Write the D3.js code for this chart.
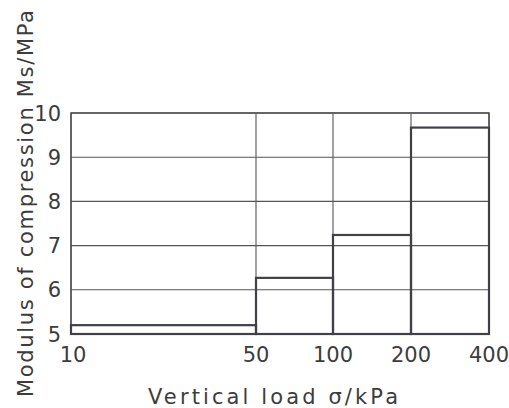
<!DOCTYPE html>
<html>
<head>
<meta charset="utf-8">
<script src="https://cdn.jsdelivr.net/npm/d3@7"></script>
<style>
  html, body { margin: 0; padding: 0; background: #fff; }
  svg { display: block; }
  text { font-family: "DejaVu Sans", sans-serif; fill: #3c3c3c; }
</style>
</head>
<body>
<svg id="chart" width="509" height="408"></svg>
<script>
// Load steps (kPa) bounding each interval, and the modulus measured in each interval
const loadTicks = [10, 50, 100, 200, 400];
const modulus = [5.2, 6.27, 7.24, 9.67];
const modulusTicks = [5, 6, 7, 8, 9, 10];
const xTitle = "Vertical load σ/kPa";
const yTitle = "Modulus of compression Ms/MPa";

const svg = d3.select("#chart");
const plotL = 71, plotR = 489, plotT = 113, plotB = 334;

// Piecewise axis: the first interval is drawn wider, the later doublings evenly spaced
const x = d3.scaleLinear()
  .domain(loadTicks)
  .range([plotL, 256, 333, 411, plotR]);
const y = d3.scaleLinear().domain([5, 10]).range([plotB, plotT]);

const lineCol = "#555";

// Horizontal grid
svg.append("g").selectAll("line")
  .data(modulusTicks)
  .join("line")
  .attr("x1", plotL).attr("x2", plotR)
  .attr("y1", d => y(d)).attr("y2", d => y(d))
  .attr("stroke", lineCol).attr("stroke-width", 1.1);

// Vertical grid at the load steps
svg.append("g").selectAll("line")
  .data(loadTicks)
  .join("line")
  .attr("x1", d => x(d)).attr("x2", d => x(d))
  .attr("y1", plotT).attr("y2", plotB)
  .attr("stroke", lineCol).attr("stroke-width", 1.1);

// Plot frame
svg.append("rect")
  .attr("x", plotL).attr("y", plotT)
  .attr("width", plotR - plotL).attr("height", plotB - plotT)
  .attr("fill", "none").attr("stroke", lineCol).attr("stroke-width", 1.6);

// Modulus bars for each load interval
svg.append("g").selectAll("rect")
  .data(modulus)
  .join("rect")
  .attr("x", (d, i) => x(loadTicks[i]))
  .attr("y", d => y(d))
  .attr("width", (d, i) => x(loadTicks[i + 1]) - x(loadTicks[i]))
  .attr("height", d => y(5) - y(d))
  .attr("fill", "none")
  .attr("stroke", "#404048")
  .attr("stroke-width", 2.2);

// Y tick labels
svg.append("g").selectAll("text")
  .data(modulusTicks)
  .join("text")
  .attr("x", 61)
  .attr("y", d => y(d))
  .attr("dy", "0.36em")
  .attr("text-anchor", "end")
  .attr("font-size", 21)
  .text(d => d);

// X tick labels
svg.append("g").selectAll("text")
  .data(loadTicks)
  .join("text")
  .attr("x", (d, i) => x(d) + (i === 0 ? 2 : 0))
  .attr("y", 362)
  .attr("text-anchor", "middle")
  .attr("font-size", 21)
  .text(d => d);

// Axis titles, spread to their full span
svg.append("text")
  .attr("x", 148)
  .attr("y", 404)
  .attr("font-size", 21)
  .attr("textLength", 250)
  .attr("lengthAdjust", "spacing")
  .text(xTitle);

svg.append("text")
  .attr("transform", "translate(33,397) rotate(-90)")
  .attr("font-size", 21)
  .attr("textLength", 387)
  .attr("lengthAdjust", "spacing")
  .text(yTitle);
</script>
</body>
</html>
